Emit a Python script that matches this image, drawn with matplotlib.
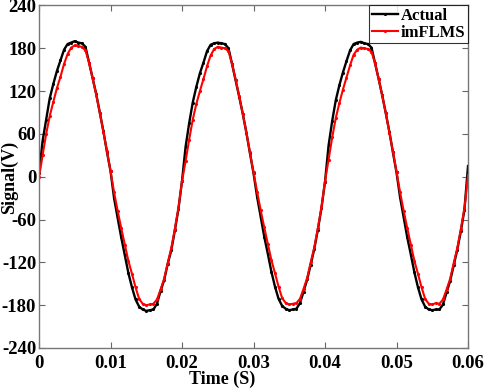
import numpy as np
import matplotlib
matplotlib.use("Agg")
import matplotlib.pyplot as plt

plt.rcParams["font.family"] = ["Liberation Serif", "DejaVu Serif"]
plt.rcParams["font.weight"] = "bold"
plt.rcParams["axes.unicode_minus"] = False

time_s = np.round(np.arange(121) * 0.0005, 4)

actual_v = [
    5, 50, 80, 110, 130, 148, 163, 178, 186, 188, 190, 188, 187, 182, 160, 138, 116, 90, 64, 35,
    8, -30, -58, -85, -110, -135, -155, -172, -182, -186, -188, -187, -186, -178, -160, -145, -122, -103, -75, -45,
    -6, 42, 75, 104, 126, 145, 160, 176, 185, 187, 188, 187, 186, 180, 158, 135, 112, 88, 62, 33,
    5, -28, -56, -84, -108, -133, -154, -171, -181, -185, -187, -186, -185, -177, -161, -144, -123, -101, -74, -44,
    -7, 44, 78, 107, 128, 146, 162, 177, 186, 188, 189, 187, 186, 181, 159, 137, 114, 89, 63, 34,
    6, -29, -57, -85, -109, -134, -155, -172, -182, -186, -187, -186, -186, -179, -162, -146, -124, -102, -76, -46,
    15,
]

imflms_v = [
    -1, 30, 60, 85, 105, 124, 140, 158, 172, 181, 184, 183, 182, 177, 160, 138, 115, 90, 63, 36,
    8, -22, -48, -72, -95, -118, -136, -155, -171, -178, -180, -179, -178, -172, -158, -143, -121, -100, -73, -44,
    -6, 22, 52, 80, 102, 120, 137, 155, 170, 179, 182, 181, 180, 176, 158, 136, 113, 88, 62, 34,
    6, -21, -47, -71, -94, -117, -135, -154, -170, -177, -179, -178, -177, -171, -157, -142, -120, -99, -72, -43,
    -6, 24, 55, 82, 103, 122, 139, 156, 171, 178, 181, 180, 179, 175, 159, 137, 114, 89, 62, 35,
    7, -22, -48, -72, -95, -118, -136, -155, -171, -178, -179, -177, -178, -172, -158, -143, -121, -100, -73, -44,
    2,
]

x_ticks = [0, 0.01, 0.02, 0.03, 0.04, 0.05, 0.06]
x_tick_labels = ["0", "0.01", "0.02", "0.03", "0.04", "0.05", "0.06"]
y_ticks = [-240, -180, -120, -60, 0, 60, 120, 180, 240]

FS = 13.5

fig = plt.figure(figsize=(4.84, 3.89), dpi=100)
ax = fig.add_axes([0.0806, 0.1054, 0.8864, 0.8805])

ax.plot(time_s, actual_v, color="black", lw=1.7, marker=".", ms=2.5, label="Actual")
ax.plot(time_s, imflms_v, color="red", lw=1.5, marker=".", ms=2.5, label="imFLMS")

ax.set_xlim(0, 0.06)
ax.set_ylim(-240, 240)
ax.set_xticks(x_ticks)
ax.set_xticklabels(x_tick_labels)
ax.set_yticks(y_ticks)
ax.tick_params(direction="in", top=True, right=True, length=4, width=0.8,
               color="#666666", labelsize=FS)
ax.tick_params(axis="x", pad=5)
ax.tick_params(axis="y", pad=2)
for lbl in ax.get_xticklabels() + ax.get_yticklabels():
    lbl.set_fontweight("bold")
for sp in ax.spines.values():
    sp.set_color("#777777")
    sp.set_linewidth(1.0)

fig.text(222 / 484, 1 - 379 / 389, "Time (S)", ha="center", va="center",
         fontsize=13, fontweight="bold")
fig.text(9 / 484, 1 - 177 / 389, "Signal(V)", ha="center", va="center",
         rotation=90, fontsize=13, fontweight="bold")

leg = ax.legend(loc="upper right", fontsize=12, frameon=True, fancybox=False,
                edgecolor="black", handlelength=1.6, handletextpad=0.15,
                borderpad=0.15, borderaxespad=0, numpoints=1,
                labelspacing=0.05)
leg.get_frame().set_linewidth(0.8)
for t in leg.get_texts():
    t.set_fontweight("bold")

fig.savefig("out.png", dpi=100)
